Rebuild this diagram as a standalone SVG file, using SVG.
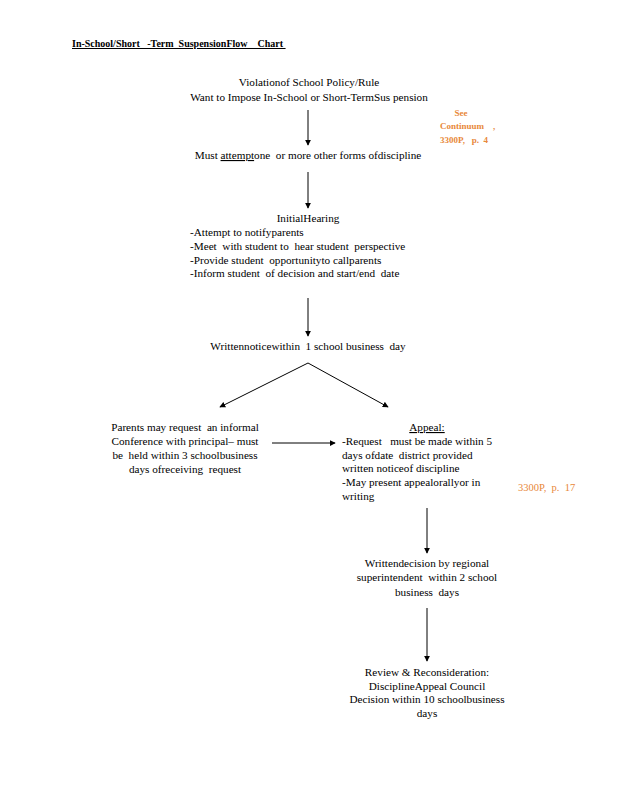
<svg xmlns="http://www.w3.org/2000/svg" width="618" height="800" viewBox="0 0 618 800">
<style>
text{font-family:"Liberation Serif","Times New Roman",serif;font-size:11.2px;fill:#000;white-space:pre}
.c{text-anchor:middle}
.t{font-size:10px;font-weight:bold;text-decoration:underline}
.o{fill:#E8883A;font-size:9px;font-weight:bold}
.o2{fill:#E8883A;font-size:10.5px}
.ln{stroke:#000;stroke-width:1;fill:none}
</style>
<defs>
<marker id="ah" viewBox="0 0 8 8" refX="7" refY="4" markerWidth="6" markerHeight="6" orient="auto" markerUnits="userSpaceOnUse">
<path d="M0,0 L8,4 L0,8 z" fill="#000"/>
</marker>
</defs>
<rect width="618" height="800" fill="#fff"/>
<g id="title"><text class="t" x="72" y="47" xml:space="preserve">In-School/Short   -Term  SuspensionFlow    Chart </text></g>
<g id="n1">
<text class="c" x="309" y="86">Violationof School Policy/Rule</text>
<text class="c" x="309" y="101">Want to Impose In-School or Short-TermSus pension</text>
</g>
<g id="note1">
<text class="o" x="461" y="116" text-anchor="middle">See</text>
<text class="o" x="440" y="129" xml:space="preserve">Continuum    ,</text>
<text class="o" x="440" y="143" xml:space="preserve">3300P,   p.  4</text>
</g>
<g id="n2">
<text class="c" x="308" y="159" xml:space="preserve">Must <tspan text-decoration="underline">attempt</tspan>one  or more other forms ofdiscipline</text>
</g>
<g id="n3">
<text class="c" x="308" y="222">InitialHearing</text>
<text x="190" y="236">-Attempt to notifyparents</text>
<text x="190" y="250" xml:space="preserve">-Meet  with student to  hear student  perspective</text>
<text x="190" y="264" xml:space="preserve">-Provide student  opportunityto callparents</text>
<text x="190" y="277" xml:space="preserve">-Inform student  of decision and start/end  date</text>
</g>
<g id="n4"><text class="c" x="308" y="350" xml:space="preserve">Writtennoticewithin  1 school business  day</text></g>
<g id="n5">
<text class="c" x="185" y="431" xml:space="preserve">Parents may request  an informal</text>
<text class="c" x="185" y="445">Conference with principal– must</text>
<text class="c" x="185" y="459" xml:space="preserve">be  held within 3 schoolbusiness</text>
<text class="c" x="185" y="473" xml:space="preserve">days ofreceiving  request</text>
</g>
<g id="n6">
<text class="c" x="427" y="431" text-decoration="underline">Appeal:</text>
<text x="342" y="445" xml:space="preserve">-Request   must be made within 5</text>
<text x="342" y="459" xml:space="preserve">days ofdate  district provided</text>
<text x="342" y="472">written noticeof discipline</text>
<text x="342" y="486">-May present appealorallyor in</text>
<text x="342" y="500">writing</text>
</g>
<g id="note2"><text class="o2" x="518" y="491" xml:space="preserve">3300P,  p.  17</text></g>
<g id="n7">
<text class="c" x="427" y="567">Writtendecision by regional</text>
<text class="c" x="427" y="581" xml:space="preserve">superintendent  within 2 school</text>
<text class="c" x="427" y="596" xml:space="preserve">business  days</text>
</g>
<g id="n8">
<text class="c" x="427" y="676">Review &amp; Reconsideration:</text>
<text class="c" x="427" y="690">DisciplineAppeal Council</text>
<text class="c" x="427" y="703">Decision within 10 schoolbusiness</text>
<text class="c" x="427" y="717">days</text>
</g>
<g id="connectors">
<line class="ln" x1="308" y1="110" x2="308" y2="145" marker-end="url(#ah)"/>
<line class="ln" x1="308" y1="172" x2="308" y2="208" marker-end="url(#ah)"/>
<line class="ln" x1="308" y1="298" x2="308" y2="336" marker-end="url(#ah)"/>
<line class="ln" x1="308" y1="363" x2="220" y2="407" marker-end="url(#ah)"/>
<line class="ln" x1="308" y1="363" x2="388" y2="407" marker-end="url(#ah)"/>
<line class="ln" x1="272" y1="443" x2="335" y2="443" marker-end="url(#ah)"/>
<line class="ln" x1="427" y1="508" x2="427" y2="553" marker-end="url(#ah)"/>
<line class="ln" x1="427" y1="608" x2="427" y2="661" marker-end="url(#ah)"/>
</g>
</svg>
